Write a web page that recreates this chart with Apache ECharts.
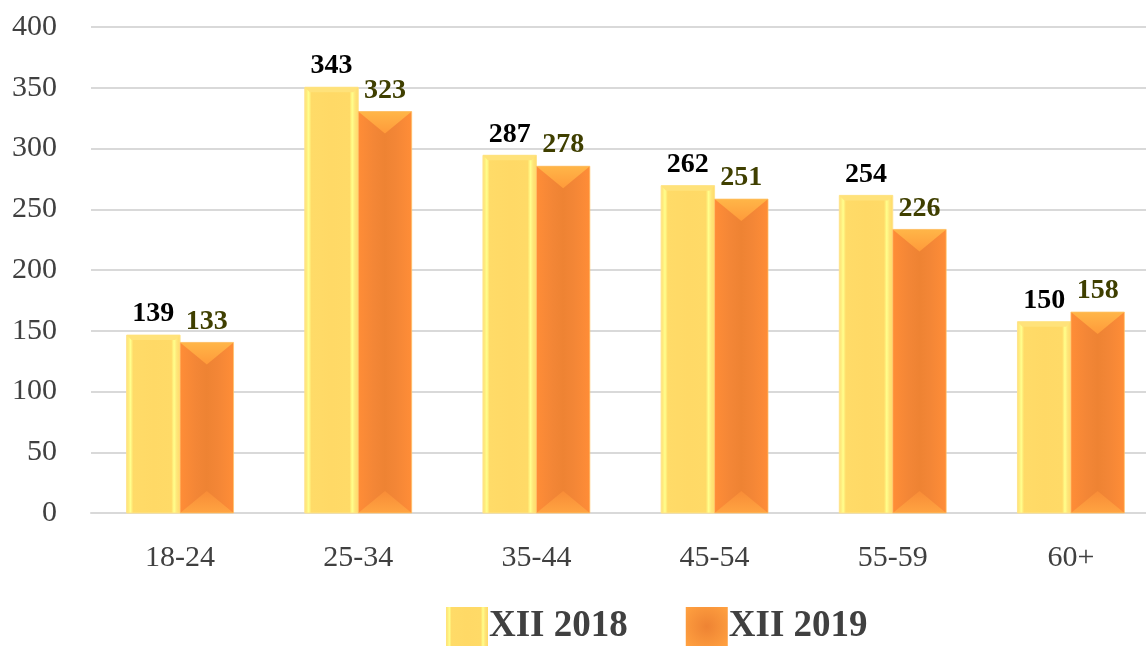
<!DOCTYPE html>
<html>
<head>
<meta charset="utf-8">
<script src="https://cdn.jsdelivr.net/npm/echarts@6/dist/echarts.min.js"></script>
<style>
  html, body { margin: 0; padding: 0; background: #fff; overflow: hidden; width: 1146px; height: 646px; }
  /* plot runs past the right edge in the original, so the canvas is a bit wider than the window */
  #chart { width: 1160px; height: 646px; }
</style>
</head>
<body>
<div id="chart"></div>
<script>
var categories = ['18-24', '25-34', '35-44', '45-54', '55-59', '60+'];
var seriesNames = ['XII 2018', 'XII 2019'];
var values2018 = [139, 343, 287, 262, 254, 150];
var values2019 = [133, 323, 278, 251, 226, 158];
var yTicks = { min: 0, max: 400, interval: 50 };

var FONT = "'Liberation Serif', 'DejaVu Serif', serif";
var bevelCap = 9;      // the bevel sticks out above the value
var labelGap = 16;

function lin(x0, y0, x1, y1, stops) {
    return new echarts.graphic.LinearGradient(x0, y0, x1, y1, stops.map(function (s) {
        return { offset: s[0], color: s[1] };
    }));
}

var yellowFill = lin(0, 0, 1, 0, [
    [0, '#FFE27A'], [0.04, '#FFEA7C'], [0.08, '#FFFF8E'], [0.13, '#FFDB68'],
    [0.5, '#FFD966'], [0.83, '#FFDA67'], [0.88, '#FFFF8C'], [0.93, '#FFE579'], [1, '#FFD966']
]);
var orangeFill = lin(0, 0, 1, 0, [
    [0, '#FF8D37'], [0.3, '#F38636'], [0.5, '#EE8333'], [0.7, '#F38636'], [1, '#FF8D37']
]);

function renderBar(which) {
    return function (params, api) {
        var cat = api.value(0);
        var val = api.value(1);
        var base = api.coord([cat, 0]);
        var top = api.coord([cat, val]);
        var band = api.size([1, 0])[0];
        var w = band * 0.3;
        var x = which === 0 ? base[0] - w : base[0];
        var y = top[1] - bevelCap;
        var h = base[1] - y;
        var children = [];
        if (which === 0) {
            children.push({ type: 'rect', shape: { x: x, y: y, width: w, height: h },
                style: { fill: yellowFill, stroke: '#FFE38A', lineWidth: 1 } });
            children.push({ type: 'polygon', shape: { points: [[x, y], [x + w, y], [x + w - 5, y + 5], [x + 5, y + 5]] },
                style: { fill: '#FFE27A' } });
        } else {
            var tri = Math.min(22, h / 2);
            children.push({ type: 'rect', shape: { x: x, y: y, width: w, height: h },
                style: { fill: orangeFill } });
            children.push({ type: 'polygon', shape: { points: [[x, y], [x + w, y], [x + w / 2, y + tri]] },
                style: { fill: lin(0, 0, 0, 1, [[0, '#FFB648'], [1, '#FF9A3A']]) } });
            children.push({ type: 'polygon', shape: { points: [[x, y + h], [x + w, y + h], [x + w / 2, y + h - tri]] },
                style: { fill: lin(0, 1, 0, 0, [[0, '#FFA442'], [1, '#F88C37']]) } });
            children.push({ type: 'rect', shape: { x: x, y: y, width: w, height: h },
                style: { fill: null, stroke: '#FFC46A', lineWidth: 1, opacity: 0.7 } });
        }
        children.push({
            type: 'text',
            style: {
                text: String(val),
                x: x + w / 2,
                y: top[1] - labelGap,
                align: 'center',
                verticalAlign: 'bottom',
                fill: which === 0 ? '#000000' : '#3F3F00',
                font: 'bold 28px ' + FONT
            }
        });
        return { type: 'group', children: children };
    };
}

function toData(arr) {
    return arr.map(function (v, i) { return [i, v]; });
}

var chart = echarts.init(document.getElementById('chart'));
chart.setOption({
    backgroundColor: '#ffffff',
    animation: false,
    grid: { left: 91, right: 0, top: 27, bottom: 133 },
    legend: {
        left: 446,
        top: 607,
        padding: 0,
        itemWidth: 42,
        itemHeight: 39,
        itemGap: 58,
        textStyle: { fontFamily: FONT, fontSize: 37, fontWeight: 'bold', color: '#404040', padding: [0, 0, 0, -4] },
        data: [
            { name: seriesNames[0], icon: 'rect', itemStyle: { color: yellowFill } },
            { name: seriesNames[1], icon: 'rect', itemStyle: {
                color: new echarts.graphic.RadialGradient(0.5, 0.5, 0.7, [
                    { offset: 0, color: '#EE8333' }, { offset: 1, color: '#FFA040' }
                ]) } }
        ]
    },
    xAxis: {
        type: 'category',
        data: categories,
        axisLine: { lineStyle: { color: '#D9D9D9', width: 2 } },
        axisTick: { show: false },
        axisLabel: { margin: 30, fontFamily: FONT, fontSize: 30, color: '#404040' }
    },
    yAxis: {
        type: 'value',
        min: yTicks.min,
        max: yTicks.max,
        interval: yTicks.interval,
        axisLine: { show: false },
        axisTick: { show: false },
        splitLine: { lineStyle: { color: '#D9D9D9', width: 2 } },
        axisLabel: { margin: 34, fontFamily: FONT, fontSize: 30, color: '#404040' }
    },
    series: [
        { name: seriesNames[0], type: 'custom', renderItem: renderBar(0), data: toData(values2018),
          itemStyle: { color: '#FFD966' }, clip: false },
        { name: seriesNames[1], type: 'custom', renderItem: renderBar(1), data: toData(values2019),
          itemStyle: { color: '#F08535' }, clip: false }
    ]
});
</script>
</body>
</html>
